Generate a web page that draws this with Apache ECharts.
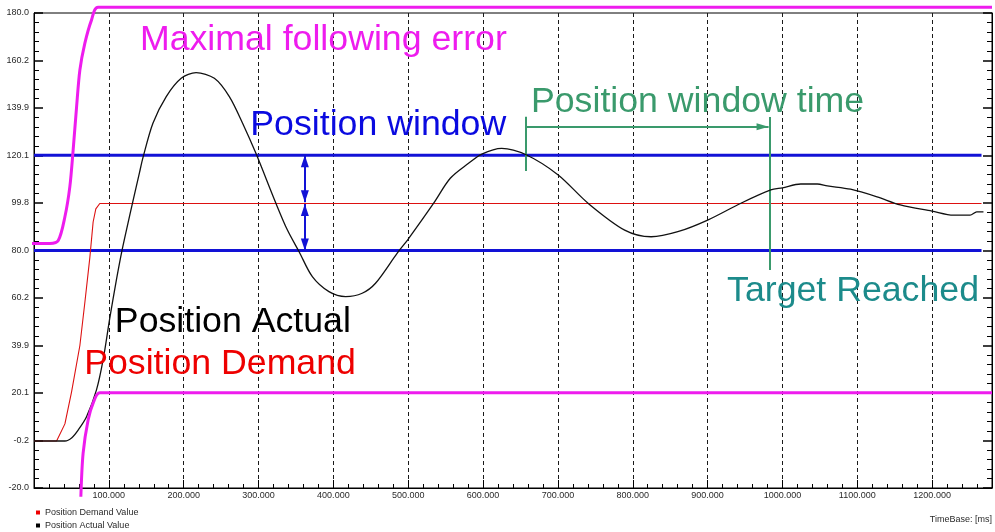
<!DOCTYPE html>
<html>
<head>
<meta charset="utf-8">
<script src="https://cdn.jsdelivr.net/npm/echarts@6/dist/echarts.min.js"></script>
<style>
  html, body { margin: 0; padding: 0; background: #fff; }
  #chart { width: 995px; height: 532px; }
</style>
</head>
<body>
<div id="chart"></div>
<script>
// ---- axis tick labels ----
const yTickLabels = ['-20.0', '-0.2', '20.1', '39.9', '60.2', '80.0', '99.8', '120.1', '139.9', '160.2', '180.0'];
const xTickLabels = ['100.000', '200.000', '300.000', '400.000', '500.000', '600.000',
                     '700.000', '800.000', '900.000', '1000.000', '1100.000', '1200.000'];

// ---- recorded signals: [time ms, position] ----
const demandValue = [
  [0, -0.2], [30.2, -0.2], [41.3, 7], [50.2, 20.5], [61.3, 40], [67.9, 58], [74.6, 77],
  [79, 92], [82.6, 97.5], [87.9, 99.8], [1266, 99.8]
];

const actualValue = [
  [0, -0.2], [41.3, -0.2], [50.6, 1.2], [59, 4.4], [70.2, 10], [83.5, 21.3], [92.3, 33.9],
  [101.2, 51.4], [110.1, 67.6], [116.8, 78.8], [123.8, 89], [132.2, 100.8], [141.1, 113],
  [145.5, 119], [158.9, 133.6], [176.7, 144.8], [196.7, 152.5], [216.6, 154.9],
  [241, 152.5], [261, 144.8], [278.7, 133.6], [296.5, 120.9], [323.2, 99.9], [338.6, 88.6],
  [354.2, 79.5], [371.9, 69], [394.1, 62.7], [416.4, 60.6], [438.5, 62], [456.3, 66.2],
  [485.1, 78.8], [500.7, 85.1], [534, 99.9], [556.2, 110.4], [580.6, 116.7], [598.3, 120.6],
  [624.9, 123], [658.2, 120.2], [700.4, 111.8], [740.3, 99.9], [789.2, 88.6], [824.6, 85.8],
  [860.2, 87.9], [900.1, 92.8], [944.5, 99.9], [984.4, 105.5], [1000, 106.4], [1024.4, 108],
  [1046.6, 108], [1060, 107.2], [1091, 105.8], [1126.5, 102.6], [1157.5, 99.2],
  [1199.7, 96.6], [1228.6, 94.9], [1250.7, 94.9], [1259.6, 96.3], [1268.6, 96.3]
];

// following error limits around the demand
const upperLimit = [
  [-12, 83], [21.3, 83], [32.4, 84.2], [41.3, 94.2], [47.9, 106.9], [52.3, 122.3],
  [56.9, 140.5], [61.3, 156], [67.9, 167.2], [76.8, 177], [85.6, 182.4], [1280, 182.4]
];
const lowerLimit = [
  [62.6, -23.7], [65.6, -5.4], [72.3, 8.6], [79, 15.7], [87.9, 20.1], [1280, 20.1]
];

// position window limits
const windowUpper = [[0, 120.1], [1266, 120.1]];
const windowLower = [[0, 80.0], [1266, 80.0]];

// dimension arrows and markers: [[x1, y1], [x2, y2]]
const followErrorArrow = [[115.8, 181.3], [115.8, 98.6]];
const windowArrows = [
  [[361.9, 120.1], [361.9, 100.3]],
  [[361.9, 99.6], [361.9, 80.0]]
];
const windowTimeStart = [[657.3, 136.3], [657.3, 113.5]];
const windowTimeArrow = [[657.3, 132.1], [981.5, 132.1]];
const targetReachedMark = [[982.8, 136.2], [982.8, 71.8]];

// annotation texts and their anchors (left edge, vertical centre)
const noteTexts = ['Maximal following error', 'Position window', 'Position window time',
                   'Target Reached', 'Position Actual', 'Position Demand'];
const noteAnchors = [[141.5, 168.4], [289, 132.6], [664, 142.4], [926, 62.8], [108, 49.8], [67, 32.2]];

const FONT = '"Liberation Sans", Arial, Helvetica, sans-serif';
const MAGENTA = '#ee1cee';
const BLUE = '#1212d6';
const RED = '#dd1111';
const GREEN = '#3a9a6c';
const TEAL = '#1c8b8b';
const noteColors = [MAGENTA, '#0a0ae0', GREEN, TEAL, '#000000', '#ee0000'];

function segment(pair, symbols, size) {
  return [
    { coord: pair[0], symbol: symbols[0], symbolSize: size, symbolOffset: [0, '50%'] },
    { coord: pair[1], symbol: symbols[1], symbolSize: size, symbolOffset: [0, '50%'] }
  ];
}

const chart = echarts.init(document.getElementById('chart'), null, { renderer: 'canvas' });

const smallText = { fontFamily: FONT, fontSize: 9, color: '#2a2a2a' };

chart.setOption({
  animation: false,
  backgroundColor: '#ffffff',
  grid: {
    left: 34, right: -1, top: 13, bottom: 44,
    show: true, borderColor: '#000', borderWidth: 1, backgroundColor: 'transparent'
  },
  legend: {
    data: ['Position Demand Value', 'Position Actual Value'],
    orient: 'vertical',
    left: 36, top: 507,
    padding: 0,
    itemWidth: 4, itemHeight: 4, itemGap: 2,
    icon: 'rect',
    selectedMode: false,
    textStyle: { fontFamily: FONT, fontSize: 9, color: '#2a2a2a', lineHeight: 11 }
  },
  graphic: [{
    type: 'text', right: 3, top: 515,
    style: { text: 'TimeBase: [ms]', font: '9px ' + FONT, fill: '#2a2a2a' }
  }],
  xAxis: [{
    type: 'value', min: 0, max: 1280, interval: 100,
    axisLine: { show: true, onZero: false, lineStyle: { color: '#000', width: 1 } },
    axisTick: { show: true, inside: true, length: 8, lineStyle: { color: '#000' } },
    minorTick: { show: false },
    splitLine: { show: true, lineStyle: { color: '#1a1a1a', width: 1, type: [4, 3] } },
    axisLabel: Object.assign({
      margin: 3,
      formatter: v => (v > 0 && v % 100 === 0) ? xTickLabels[v / 100 - 1] : ''
    }, smallText)
  }, {
    // 20 ms sub-division ticks
    type: 'value', min: 0, max: 1280, interval: 20, position: 'bottom',
    axisLine: { show: false, onZero: false },
    axisTick: { show: true, inside: true, length: 4, lineStyle: { color: '#000' } },
    splitLine: { show: false },
    axisLabel: { show: false }
  }],
  yAxis: [{
    type: 'value', min: -20, max: 180, interval: 20, position: 'left',
    axisLine: { show: true, onZero: false, lineStyle: { color: '#000', width: 1 } },
    axisTick: { show: true, inside: true, length: 9, lineStyle: { color: '#000', width: 1.5 } },
    minorTick: { show: true, splitNumber: 5, length: 5, lineStyle: { color: '#000', width: 1 } },
    splitLine: { show: false },
    axisLabel: Object.assign({
      margin: 5,
      formatter: v => yTickLabels[Math.round((v + 20) / 20)]
    }, smallText)
  }, {
    type: 'value', min: -20, max: 180, interval: 20, position: 'right',
    axisLine: { show: true, onZero: false, lineStyle: { color: '#000', width: 1 } },
    axisTick: { show: true, inside: true, length: 9, lineStyle: { color: '#000', width: 1.5 } },
    minorTick: { show: true, splitNumber: 5, length: 5, lineStyle: { color: '#000', width: 1 } },
    splitLine: { show: false },
    axisLabel: { show: false }
  }],
  series: [
    {
      name: 'Position window upper', type: 'line', data: windowUpper,
      showSymbol: false, silent: true, z: 3, color: BLUE,
      lineStyle: { color: BLUE, width: 3 },
      markLine: {
        silent: true, animation: false,
        label: { show: false },
        lineStyle: { color: BLUE, width: 2, type: 'solid' },
        itemStyle: { color: BLUE },
        data: windowArrows.map(a => segment(a, ['triangle', 'triangle'], [8, 12]))
      }
    },
    {
      name: 'Position window lower', type: 'line', data: windowLower,
      showSymbol: false, silent: true, z: 3, color: BLUE,
      lineStyle: { color: BLUE, width: 3 }
    },
    {
      name: 'Position Demand Value', type: 'line', data: demandValue,
      showSymbol: false, silent: true, z: 4, color: '#ee0000',
      lineStyle: { color: RED, width: 1.1 }
    },
    {
      name: 'Position Actual Value', type: 'line', data: actualValue,
      showSymbol: false, silent: true, z: 5, color: '#000000', smooth: 0.3,
      lineStyle: { color: '#111', width: 1.3 },
      markLine: {
        silent: true, animation: false,
        label: { show: false },
        lineStyle: { color: GREEN, width: 2, type: 'solid' },
        itemStyle: { color: GREEN },
        data: [
          segment(windowTimeStart, ['none', 'none'], 1),
          segment(windowTimeArrow, ['none', 'triangle'], [7, 12]),
          segment(targetReachedMark, ['none', 'none'], 1)
        ]
      }
    },
    {
      name: 'Upper following error limit', type: 'line', data: upperLimit,
      showSymbol: false, silent: true, z: 6, clip: false, smooth: 0.3, color: MAGENTA,
      lineStyle: { color: MAGENTA, width: 3 },
      markLine: {
        silent: true, animation: false,
        label: { show: false },
        lineStyle: { color: MAGENTA, width: 2, type: 'solid' },
        itemStyle: { color: MAGENTA },
        data: [segment(followErrorArrow, ['triangle', 'triangle'], [8, 12])]
      }
    },
    {
      name: 'Lower following error limit', type: 'line', data: lowerLimit,
      showSymbol: false, silent: true, z: 6, clip: false, smooth: 0.3, color: MAGENTA,
      lineStyle: { color: MAGENTA, width: 3 }
    },
    {
      name: 'Notes', type: 'scatter', symbolSize: 0, silent: true, z: 10,
      itemStyle: { opacity: 1 },
      data: noteTexts.map((t, i) => ({
        name: t, value: noteAnchors[i],
        label: { color: noteColors[i] }
      })),
      label: {
        show: true, position: 'right', distance: 0, opacity: 1,
        formatter: p => p.name,
        fontFamily: FONT, fontSize: 35.7, verticalAlign: 'middle'
      }
    }
  ]
});
</script>
</body>
</html>
